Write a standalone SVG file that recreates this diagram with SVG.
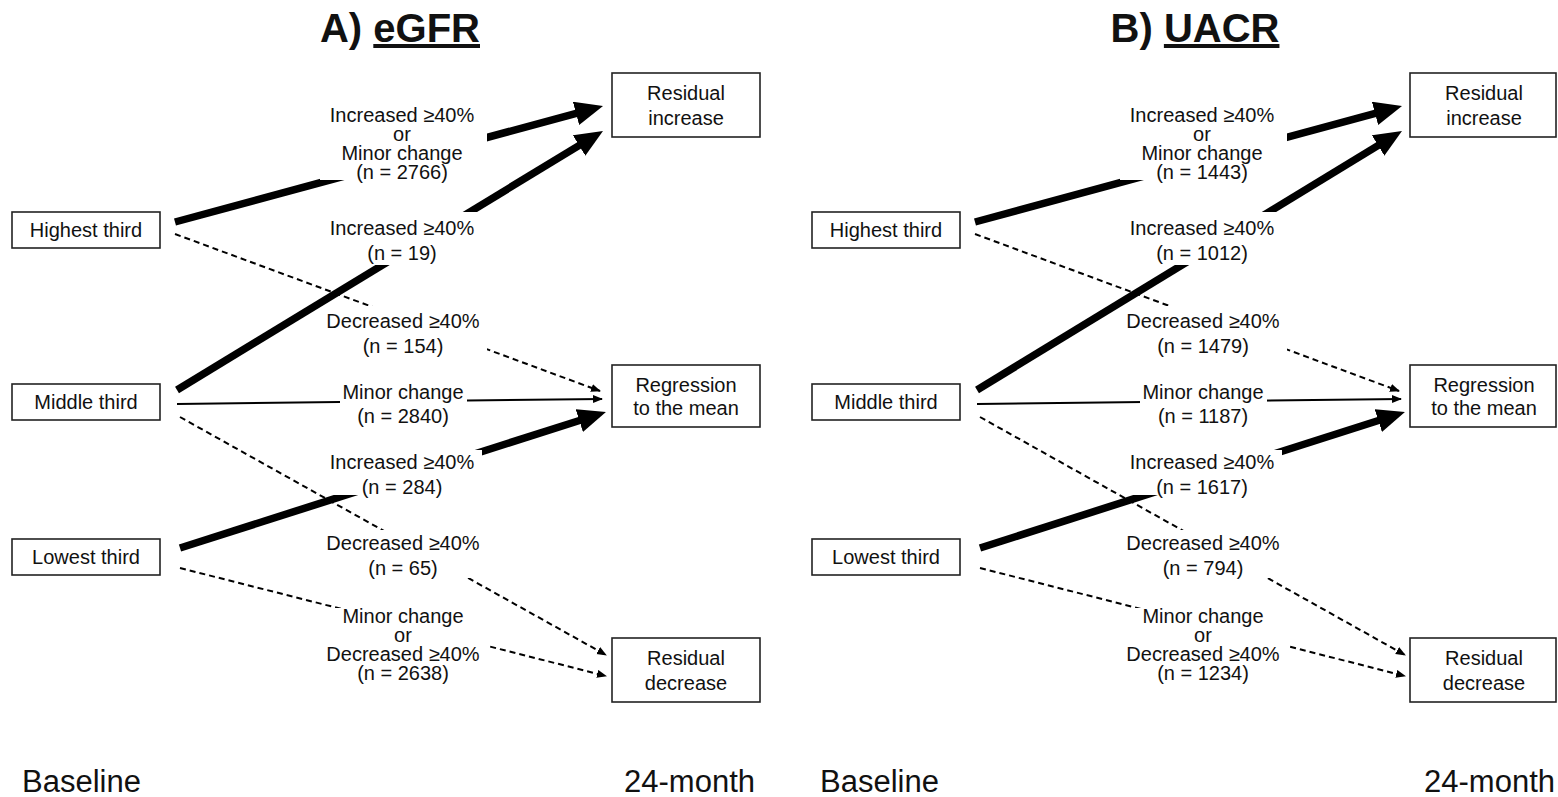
<svg xmlns="http://www.w3.org/2000/svg" width="1558" height="797" viewBox="0 0 1558 797">
<style>
text{font-family:"Liberation Sans",Arial,sans-serif;fill:#111}
.t{font-size:20px;text-anchor:middle}
.title{font-size:40px;font-weight:bold;text-anchor:middle}
.axis{font-size:31px}
.box{fill:#fff;stroke:#222;stroke-width:1.6}
.bg{fill:#fff;stroke:none}
.thick{stroke:#000;stroke-width:7.5;fill:none;marker-end:url(#big)}
.thin{stroke:#000;stroke-width:2;fill:none;marker-end:url(#small)}
.dash{stroke:#000;stroke-width:2;fill:none;stroke-dasharray:6 4;marker-end:url(#small)}
</style>
<defs>
<marker id="big" markerUnits="userSpaceOnUse" markerWidth="30" markerHeight="26" refX="6" refY="12" orient="auto" viewBox="0 0 30 26">
<path d="M0,0 L28,12 L0,24 z" fill="#000"/>
</marker>
<marker id="small" markerUnits="userSpaceOnUse" markerWidth="12" markerHeight="10" refX="9" refY="4" orient="auto" viewBox="0 0 12 10">
<path d="M0,0 L10,4 L0,8 z" fill="#000"/>
</marker>
</defs>
<rect width="1558" height="797" fill="#fff"/>

<text class="title" x="400" y="42">A) <tspan text-decoration="underline">eGFR</tspan></text>
<text class="title" x="1195" y="42">B) <tspan text-decoration="underline">UACR</tspan></text>

<!-- Panel A -->
<g id="panelA">
<g id="connectorsA">
<line class="thick" x1="175" y1="222" x2="581.8" y2="111.8"/>
<line class="thick" x1="177" y1="390" x2="584.2" y2="142.4"/>
<line class="thick" x1="180" y1="548" x2="585" y2="418.7"/>
<line class="thin" x1="177" y1="404" x2="602" y2="399"/>
<line class="dash" x1="175" y1="234" x2="600" y2="391"/>
<line class="dash" x1="180" y1="417" x2="606" y2="655"/>
<line class="dash" x1="180" y1="568" x2="606" y2="676"/>
</g>
<g id="A-highest"><rect class="box" x="12" y="212" width="148" height="36"/><text class="t" x="86" y="237">Highest third</text></g>
<g id="A-middle"><rect class="box" x="12" y="384" width="148" height="36"/><text class="t" x="86" y="409">Middle third</text></g>
<g id="A-lowest"><rect class="box" x="12" y="539" width="148" height="36"/><text class="t" x="86" y="564">Lowest third</text></g>
<g id="A-resinc"><rect class="box" x="612" y="73" width="148" height="64"/><text class="t" x="686" y="100">Residual</text><text class="t" x="686" y="125">increase</text></g>
<g id="A-regr"><rect class="box" x="612" y="365" width="148" height="62"/><text class="t" x="686" y="392">Regression</text><text class="t" x="686" y="415">to the mean</text></g>
<g id="A-resdec"><rect class="box" x="612" y="638" width="148" height="64"/><text class="t" x="686" y="665">Residual</text><text class="t" x="686" y="690">decrease</text></g>

<g id="A-lab1"><rect class="bg" x="320" y="103" width="167" height="77"/><text class="t" x="402" y="122">Increased ≥40%</text><text class="t" x="402" y="141">or</text><text class="t" x="402" y="160">Minor change</text><text class="t" x="402" y="179">(n = 2766)</text></g>
<g id="A-lab2"><rect class="bg" x="322" y="212" width="160" height="53"/><text class="t" x="402" y="235">Increased ≥40%</text><text class="t" x="402" y="260">(n = 19)</text></g>
<g id="A-lab3"><rect class="bg" x="330" y="306" width="157" height="52"/><text class="t" x="403" y="328">Decreased ≥40%</text><text class="t" x="403" y="353">(n = 154)</text></g>
<g id="A-lab4"><rect class="bg" x="340" y="382" width="127" height="48"/><text class="t" x="403" y="399">Minor change</text><text class="t" x="403" y="423">(n = 2840)</text></g>
<g id="A-lab5"><rect class="bg" x="332" y="450" width="150" height="45"/><text class="t" x="402" y="469">Increased ≥40%</text><text class="t" x="402" y="494">(n = 284)</text></g>
<g id="A-lab6"><rect class="bg" x="322" y="530" width="163" height="48"/><text class="t" x="403" y="550">Decreased ≥40%</text><text class="t" x="403" y="575">(n = 65)</text></g>
<g id="A-lab7"><rect class="bg" x="322" y="608" width="165" height="76"/><text class="t" x="403" y="623">Minor change</text><text class="t" x="403" y="642">or</text><text class="t" x="403" y="661">Decreased ≥40%</text><text class="t" x="403" y="680">(n = 2638)</text></g>

<text class="axis" x="22" y="792">Baseline</text>
<text class="axis" x="755" y="792" text-anchor="end">24-month</text>
</g>

<!-- Panel B -->
<g id="panelB" transform="translate(800,0)">
<g id="connectorsB">
<line class="thick" x1="175" y1="222" x2="580.8" y2="111.8"/>
<line class="thick" x1="177" y1="390" x2="583.2" y2="142.4"/>
<line class="thick" x1="180" y1="548" x2="584" y2="418.7"/>
<line class="thin" x1="177" y1="404" x2="601" y2="399"/>
<line class="dash" x1="175" y1="234" x2="599" y2="391"/>
<line class="dash" x1="180" y1="417" x2="605" y2="655"/>
<line class="dash" x1="180" y1="568" x2="605" y2="676"/>
</g>
<g id="B-highest"><rect class="box" x="12" y="212" width="148" height="36"/><text class="t" x="86" y="237">Highest third</text></g>
<g id="B-middle"><rect class="box" x="12" y="384" width="148" height="36"/><text class="t" x="86" y="409">Middle third</text></g>
<g id="B-lowest"><rect class="box" x="12" y="539" width="148" height="36"/><text class="t" x="86" y="564">Lowest third</text></g>
<g id="B-resinc"><rect class="box" x="610" y="73" width="146" height="64"/><text class="t" x="684" y="100">Residual</text><text class="t" x="684" y="125">increase</text></g>
<g id="B-regr"><rect class="box" x="610" y="365" width="146" height="62"/><text class="t" x="684" y="392">Regression</text><text class="t" x="684" y="415">to the mean</text></g>
<g id="B-resdec"><rect class="box" x="610" y="638" width="146" height="64"/><text class="t" x="684" y="665">Residual</text><text class="t" x="684" y="690">decrease</text></g>

<g id="B-lab1"><rect class="bg" x="320" y="103" width="167" height="77"/><text class="t" x="402" y="122">Increased ≥40%</text><text class="t" x="402" y="141">or</text><text class="t" x="402" y="160">Minor change</text><text class="t" x="402" y="179">(n = 1443)</text></g>
<g id="B-lab2"><rect class="bg" x="322" y="212" width="160" height="53"/><text class="t" x="402" y="235">Increased ≥40%</text><text class="t" x="402" y="260">(n = 1012)</text></g>
<g id="B-lab3"><rect class="bg" x="330" y="306" width="157" height="52"/><text class="t" x="403" y="328">Decreased ≥40%</text><text class="t" x="403" y="353">(n = 1479)</text></g>
<g id="B-lab4"><rect class="bg" x="340" y="382" width="127" height="48"/><text class="t" x="403" y="399">Minor change</text><text class="t" x="403" y="423">(n = 1187)</text></g>
<g id="B-lab5"><rect class="bg" x="332" y="450" width="150" height="45"/><text class="t" x="402" y="469">Increased ≥40%</text><text class="t" x="402" y="494">(n = 1617)</text></g>
<g id="B-lab6"><rect class="bg" x="322" y="530" width="163" height="48"/><text class="t" x="403" y="550">Decreased ≥40%</text><text class="t" x="403" y="575">(n = 794)</text></g>
<g id="B-lab7"><rect class="bg" x="322" y="608" width="165" height="76"/><text class="t" x="403" y="623">Minor change</text><text class="t" x="403" y="642">or</text><text class="t" x="403" y="661">Decreased ≥40%</text><text class="t" x="403" y="680">(n = 1234)</text></g>

<text class="axis" x="20" y="792">Baseline</text>
<text class="axis" x="755" y="792" text-anchor="end">24-month</text>
</g>
</svg>
